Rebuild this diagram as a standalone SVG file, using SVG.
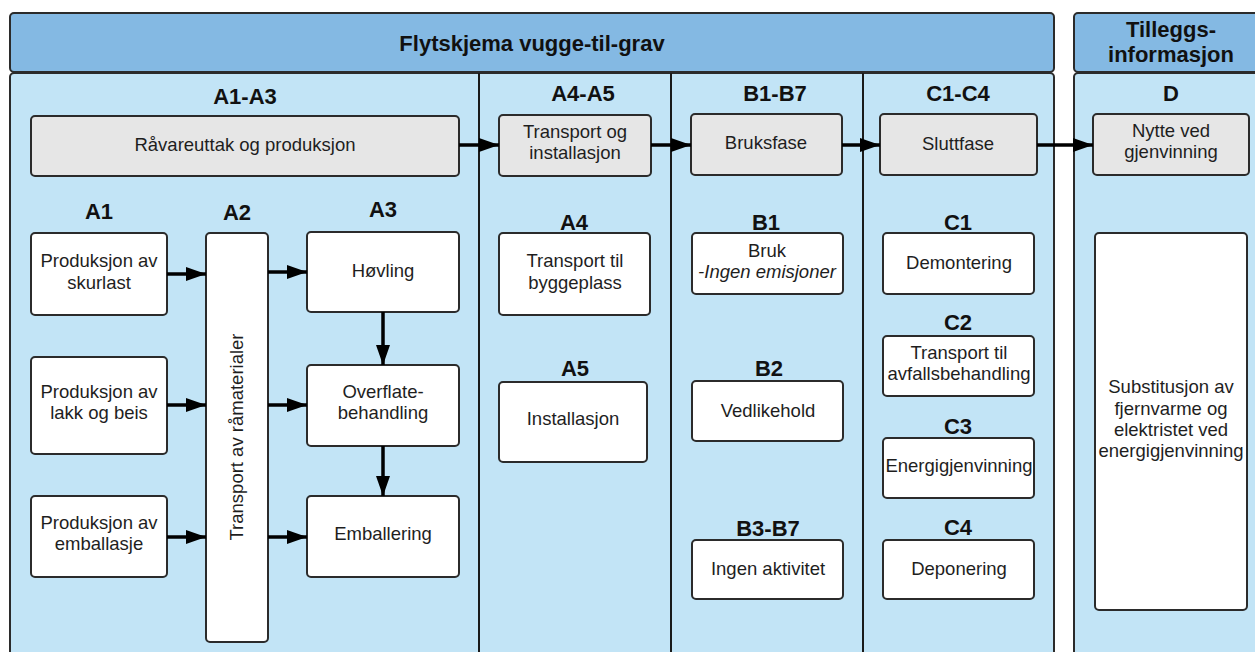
<svg xmlns="http://www.w3.org/2000/svg" width="1255" height="652" viewBox="0 0 1255 652">
<style>
.hdr{fill:#84b9e3;stroke:#2b2b2b;stroke-width:2}
.body{fill:#c2e4f6;stroke:#2b2b2b;stroke-width:2}
.div{stroke:#1a1a1a;stroke-width:2}
.gray{fill:#e6e6e6;stroke:#2b2b2b;stroke-width:2}
.box{fill:#ffffff;stroke:#2b2b2b;stroke-width:2}
text{font-family:"Liberation Sans",Arial,sans-serif;fill:#1e1e1e}
.t{font-size:18.5px;text-anchor:middle}
.b{font-size:22px;font-weight:bold;text-anchor:middle;fill:#111}
.arr{stroke:#000;stroke-width:3.5;fill:none;marker-end:url(#ah)}
</style>
<defs>
<marker id="ah" markerUnits="userSpaceOnUse" markerWidth="20" markerHeight="14" refX="20" refY="7" orient="auto">
<path d="M0,0 L20,7 L0,14 z" fill="#000"/>
</marker>
</defs>
<rect width="1255" height="652" fill="#ffffff"/>
<g id="panels">
<rect class="hdr" x="10" y="13" width="1044" height="59" rx="4"/>
<rect class="hdr" x="1074" y="13" width="200" height="59" rx="4"/>
<rect class="body" x="10" y="73" width="1044" height="600" rx="4"/>
<rect class="body" x="1074" y="73" width="200" height="600" rx="4"/>
<line class="div" x1="479" y1="73" x2="479" y2="652"/>
<line class="div" x1="671" y1="73" x2="671" y2="652"/>
<line class="div" x1="863" y1="73" x2="863" y2="652"/>
<text class="b" x="532" y="51">Flytskjema vugge-til-grav</text>
<text class="b" x="1171" y="37">Tilleggs-</text>
<text class="b" x="1171" y="62">informasjon</text>
<text class="b" x="245" y="104">A1-A3</text>
<text class="b" x="583" y="101">A4-A5</text>
<text class="b" x="775" y="101">B1-B7</text>
<text class="b" x="958" y="101">C1-C4</text>
<text class="b" x="1171" y="101">D</text>
<text class="b" x="99" y="219">A1</text>
<text class="b" x="237" y="220">A2</text>
<text class="b" x="383" y="217">A3</text>
<text class="b" x="574" y="230">A4</text>
<text class="b" x="575" y="376">A5</text>
<text class="b" x="766" y="230">B1</text>
<text class="b" x="769" y="376">B2</text>
<text class="b" x="768" y="536">B3-B7</text>
<text class="b" x="958" y="230">C1</text>
<text class="b" x="958" y="330">C2</text>
<text class="b" x="958" y="434">C3</text>
<text class="b" x="958" y="535">C4</text>
</g>
<g id="n-ravare"><rect class="gray" x="31" y="116" width="428" height="60" rx="4"/><text class="t" x="245" y="151">Råvareuttak og produksjon</text></g>
<g id="n-transport"><rect class="gray" x="499" y="115" width="152" height="61" rx="4"/><text class="t" x="575" y="138">Transport og</text><text class="t" x="575" y="159">installasjon</text></g>
<g id="n-bruksfase"><rect class="gray" x="691" y="114" width="151" height="61" rx="4"/><text class="t" x="766" y="149">Bruksfase</text></g>
<g id="n-sluttfase"><rect class="gray" x="880" y="114" width="157" height="61" rx="4"/><text class="t" x="958" y="150">Sluttfase</text></g>
<g id="n-nytte"><rect class="gray" x="1093" y="114" width="156" height="61" rx="4"/><text class="t" x="1171" y="137">Nytte ved</text><text class="t" x="1171" y="158">gjenvinning</text></g>
<g id="n-a1a"><rect class="box" x="31" y="233" width="136" height="82" rx="4"/><text class="t" x="99" y="267">Produksjon av</text><text class="t" x="99" y="289">skurlast</text></g>
<g id="n-a1b"><rect class="box" x="31" y="357" width="136" height="97" rx="4"/><text class="t" x="99" y="398">Produksjon av</text><text class="t" x="99" y="419">lakk og beis</text></g>
<g id="n-a1c"><rect class="box" x="31" y="496" width="136" height="81" rx="4"/><text class="t" x="99" y="529">Produksjon av</text><text class="t" x="99" y="550">emballasje</text></g>
<g id="n-a2"><rect class="box" x="206" y="233" width="62" height="409" rx="4"/><text class="t" transform="translate(243,437) rotate(-90)">Transport av råmaterialer</text></g>
<g id="n-hovling"><rect class="box" x="307" y="232" width="152" height="80" rx="4"/><text class="t" x="383" y="277">Høvling</text></g>
<g id="n-overflate"><rect class="box" x="307" y="365" width="152" height="81" rx="4"/><text class="t" x="383" y="398">Overflate-</text><text class="t" x="383" y="419">behandling</text></g>
<g id="n-emballering"><rect class="box" x="307" y="496" width="152" height="81" rx="4"/><text class="t" x="383" y="540">Emballering</text></g>
<g id="n-a4"><rect class="box" x="499" y="233" width="151" height="82" rx="4"/><text class="t" x="575" y="267">Transport til</text><text class="t" x="575" y="289">byggeplass</text></g>
<g id="n-a5"><rect class="box" x="499" y="382" width="148" height="80" rx="4"/><text class="t" x="573" y="425">Installasjon</text></g>
<g id="n-b1"><rect class="box" x="692" y="233" width="151" height="61" rx="4"/><text class="t" x="767" y="257">Bruk</text><text class="t" x="767" y="278" font-style="italic">-Ingen emisjoner</text></g>
<g id="n-b2"><rect class="box" x="692" y="381" width="151" height="60" rx="4"/><text class="t" x="768" y="417">Vedlikehold</text></g>
<g id="n-b3"><rect class="box" x="692" y="540" width="151" height="59" rx="4"/><text class="t" x="768" y="575">Ingen aktivitet</text></g>
<g id="n-c1"><rect class="box" x="883" y="233" width="151" height="61" rx="4"/><text class="t" x="959" y="269">Demontering</text></g>
<g id="n-c2"><rect class="box" x="883" y="336" width="151" height="60" rx="4"/><text class="t" x="959" y="359">Transport til</text><text class="t" x="959" y="380">avfallsbehandling</text></g>
<g id="n-c3"><rect class="box" x="883" y="438" width="151" height="60" rx="4"/><text class="t" x="959" y="472">Energigjenvinning</text></g>
<g id="n-c4"><rect class="box" x="883" y="540" width="151" height="59" rx="4"/><text class="t" x="959" y="575">Deponering</text></g>
<g id="n-d"><rect class="box" x="1095" y="233" width="152" height="377" rx="4"/><text class="t" x="1171" y="393">Substitusjon av</text><text class="t" x="1171" y="415">fjernvarme og</text><text class="t" x="1171" y="436">elektristet ved</text><text class="t" x="1171" y="457">energigjenvinning</text></g>
<g id="connectors">
<line class="arr" x1="459" y1="145" x2="499" y2="145"/>
<line class="arr" x1="651" y1="145" x2="691" y2="145"/>
<line class="arr" x1="842" y1="145" x2="880" y2="145"/>
<line class="arr" x1="1037" y1="145" x2="1093" y2="145"/>
<line class="arr" x1="167" y1="274" x2="206" y2="274"/>
<line class="arr" x1="167" y1="405" x2="206" y2="405"/>
<line class="arr" x1="167" y1="537" x2="206" y2="537"/>
<line class="arr" x1="268" y1="272" x2="307" y2="272"/>
<line class="arr" x1="268" y1="405" x2="307" y2="405"/>
<line class="arr" x1="268" y1="537" x2="307" y2="537"/>
<line class="arr" x1="383" y1="312" x2="383" y2="365"/>
<line class="arr" x1="383" y1="446" x2="383" y2="496"/>
</g>
</svg>
